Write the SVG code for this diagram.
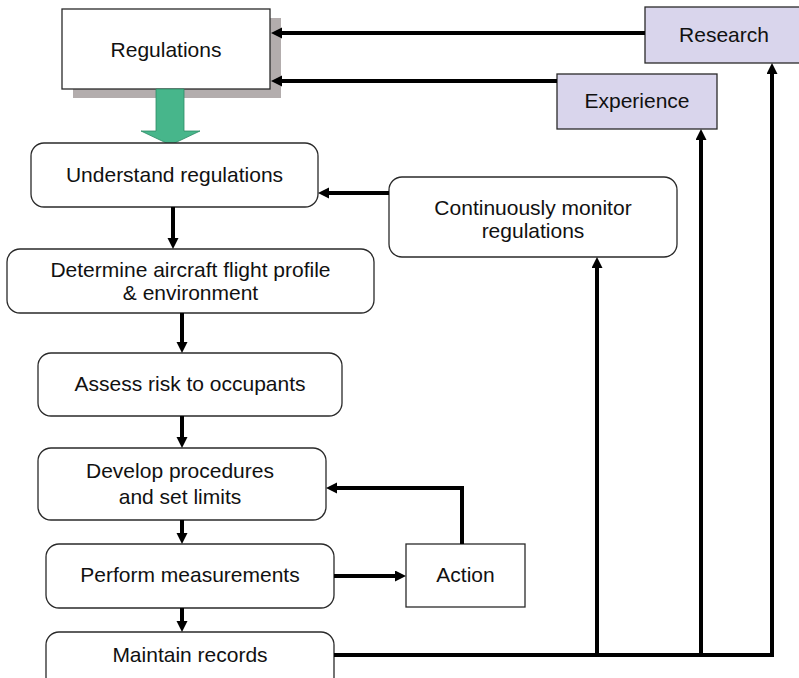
<svg xmlns="http://www.w3.org/2000/svg" width="799" height="678" viewBox="0 0 799 678">
<style>
.box{fill:#fff;stroke:#2a2a2a;stroke-width:1.3}
.src{fill:#d9d5ec;stroke:#2a2a2a;stroke-width:1.3}
.t{font-family:"Liberation Sans",Arial,sans-serif;font-size:21px;fill:#111;text-anchor:middle}
.c{fill:none;stroke:#000;stroke-width:4}
</style>
<defs>
<marker id="ah" markerUnits="userSpaceOnUse" markerWidth="12" markerHeight="12" refX="3" refY="5.5" orient="auto">
<path d="M0,0 L11,5.5 L0,11 z" fill="#000"/>
</marker>
</defs>
<rect width="799" height="678" fill="#fff"/>
<g id="regulations">
<rect x="73" y="18" width="208" height="80" fill="#b3adad"/>
<rect class="box" x="62" y="9" width="208" height="80"/>
<text class="t" x="166" y="56.5">Regulations</text>
</g>
<g id="green-arrow">
<polygon points="156,89 184,89 184,131 200,131 170.5,145 141,131 156,131" fill="#47b68b" stroke="#2f8a66" stroke-width="0.8"/>
</g>
<g id="research">
<rect class="src" x="645" y="7" width="156" height="56"/>
<text class="t" x="724" y="42">Research</text>
</g>
<g id="experience">
<rect class="src" x="557" y="74" width="160" height="55"/>
<text class="t" x="637" y="108">Experience</text>
</g>
<g id="understand">
<rect class="box" x="31" y="143" width="287" height="64" rx="13"/>
<text class="t" x="174.5" y="182">Understand regulations</text>
</g>
<g id="monitor">
<rect class="box" x="389" y="177" width="288" height="80" rx="13"/>
<text class="t" x="533" y="215">Continuously monitor</text>
<text class="t" x="533" y="238">regulations</text>
</g>
<g id="determine">
<rect class="box" x="7" y="249" width="367" height="64" rx="13"/>
<text class="t" x="190.5" y="277">Determine aircraft flight profile</text>
<text class="t" x="190.5" y="300">&amp; environment</text>
</g>
<g id="assess">
<rect class="box" x="38" y="353" width="304" height="63" rx="13"/>
<text class="t" x="190" y="391">Assess risk to occupants</text>
</g>
<g id="develop">
<rect class="box" x="38" y="448" width="288" height="72" rx="13"/>
<text class="t" x="180" y="478">Develop procedures</text>
<text class="t" x="180" y="504">and set limits</text>
</g>
<g id="perform">
<rect class="box" x="46" y="544" width="288" height="64" rx="13"/>
<text class="t" x="190" y="582">Perform measurements</text>
</g>
<g id="action">
<rect class="box" x="406" y="544" width="119" height="63"/>
<text class="t" x="465.5" y="582">Action</text>
</g>
<g id="maintain">
<rect class="box" x="46" y="632" width="288" height="58" rx="13"/>
<text class="t" x="190" y="662">Maintain records</text>
</g>
<g id="connectors">
<path class="c" d="M645,33 H279" marker-end="url(#ah)"/>
<path class="c" d="M557,81 H279" marker-end="url(#ah)"/>
<path class="c" d="M389,193 H326" marker-end="url(#ah)"/>
<path class="c" d="M173,207 V241" marker-end="url(#ah)"/>
<path class="c" d="M182,313 V345" marker-end="url(#ah)"/>
<path class="c" d="M182,416 V440" marker-end="url(#ah)"/>
<path class="c" d="M182,520 V536" marker-end="url(#ah)"/>
<path class="c" d="M182,608 V624" marker-end="url(#ah)"/>
<path class="c" d="M334,576 H398" marker-end="url(#ah)"/>
<path class="c" d="M462,544 V488 H334" marker-end="url(#ah)"/>
<path class="c" d="M334,655 H772 V71" marker-end="url(#ah)"/>
<path class="c" d="M597,655 V265" marker-end="url(#ah)"/>
<path class="c" d="M701,655 V137" marker-end="url(#ah)"/>
</g>
</svg>
